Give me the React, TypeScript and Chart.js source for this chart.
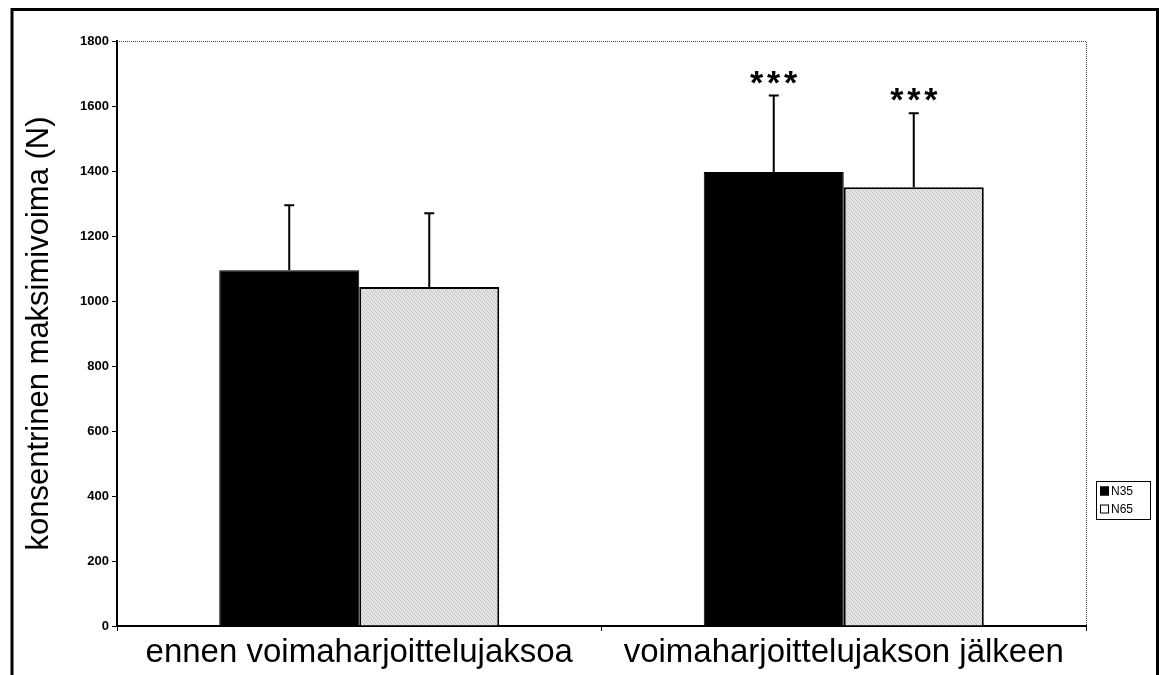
import { useEffect, useRef } from 'react';
import { Chart, registerables } from 'chart.js';

Chart.register(...registerables);

// Group labels along the x axis
const categories = ['ennen voimaharjoittelujaksoa', 'voimaharjoittelujakson jälkeen'];
// Series names
const seriesNames = ['N35', 'N65'];
// Mean concentric maximal force (N)
const n35Means = [1095, 1397];
const n65Means = [1043, 1350];
// Standard deviations (drawn upward only)
const n35Sd = [200, 235];
const n65Sd = [227, 228];
// Significance markers above the error bars
const n35Sig = ['', '***'];
const n65Sig = ['', '***'];
// Y axis range and step
const yMin = 0;
const yMax = 1800;
const yStep = 200;

const FONT = '"Liberation Sans", Arial, Helvetica, sans-serif';

// light stippled grey fill for the second series
function makeStipple(ctx: CanvasRenderingContext2D): CanvasPattern | string {
  const tile = document.createElement('canvas');
  tile.width = 4;
  tile.height = 4;
  const t = tile.getContext('2d');
  if (!t) return '#dcdcdc';
  t.fillStyle = '#e6e6e6';
  t.fillRect(0, 0, 4, 4);
  t.fillStyle = '#bdbdbd';
  t.fillRect(0, 0, 1, 1);
  t.fillRect(2, 1, 1, 1);
  t.fillRect(1, 2, 1, 1);
  t.fillRect(3, 3, 1, 1);
  return ctx.createPattern(tile, 'repeat') || '#dcdcdc';
}

const errorBarPlugin = {
  id: 'errorBars',
  afterDatasetsDraw(chart: any) {
    const { ctx, scales } = chart;
    const y = scales.y;
    chart.data.datasets.forEach((ds: any, i: number) => {
      const meta = chart.getDatasetMeta(i);
      meta.data.forEach((bar: any, j: number) => {
        const mean = ds.data[j];
        const sd = ds.errors[j];
        const top = y.getPixelForValue(mean + sd);
        ctx.save();
        ctx.strokeStyle = '#000';
        ctx.lineWidth = 2;
        ctx.beginPath();
        ctx.moveTo(bar.x, bar.y);
        ctx.lineTo(bar.x, top);
        ctx.moveTo(bar.x - 5, top);
        ctx.lineTo(bar.x + 5, top);
        ctx.stroke();
        const sig: string = ds.sig[j];
        if (sig) {
          ctx.fillStyle = '#000';
          ctx.font = `bold 34px ${FONT}`;
          ctx.textAlign = 'center';
          ctx.textBaseline = 'alphabetic';
          const gap = 17;
          const n = sig.length;
          for (let k = 0; k < n; k++) {
            ctx.fillText(sig[k], bar.x + (k - (n - 1) / 2) * gap, top - 2);
          }
        }
        ctx.restore();
      });
    });
  },
};

const framePlugin = {
  id: 'frame',
  beforeDraw(chart: any) {
    const { ctx, width, height } = chart;
    ctx.save();
    ctx.fillStyle = '#fff';
    ctx.fillRect(0, 0, width, height);
    ctx.restore();
  },
  afterDraw(chart: any) {
    const { ctx, chartArea } = chart;
    ctx.save();
    // dotted top and right edges of the plot area
    ctx.strokeStyle = '#444';
    ctx.lineWidth = 1;
    ctx.setLineDash([1, 1]);
    ctx.beginPath();
    ctx.moveTo(chartArea.left, chartArea.top + 0.5);
    ctx.lineTo(chartArea.right + 0.5, chartArea.top + 0.5);
    ctx.lineTo(chartArea.right + 0.5, chartArea.bottom);
    ctx.stroke();
    ctx.setLineDash([]);

    // outer frame
    ctx.strokeStyle = '#000';
    ctx.lineWidth = 3;
    ctx.strokeRect(12, 9.5, 1145.5, 720);

    // legend box
    const lx = 1096;
    const ly = 481;
    const lw = 54;
    const lh = 38;
    ctx.lineWidth = 1;
    ctx.strokeRect(lx + 0.5, ly + 0.5, lw, lh);
    ctx.font = `12px ${FONT}`;
    ctx.textBaseline = 'middle';
    ctx.textAlign = 'left';
    chart.data.datasets.forEach((ds: any, i: number) => {
      const cy = ly + 10 + i * 18;
      ctx.fillStyle = ds.legendFill;
      ctx.fillRect(lx + 4, cy - 4.5, 9, 9);
      ctx.strokeStyle = '#000';
      ctx.strokeRect(lx + 4.5, cy - 4, 8, 8);
      ctx.fillStyle = '#000';
      ctx.fillText(ds.label, lx + 15, cy + 1);
    });
    ctx.restore();
  },
};

export default function App() {
  const canvasRef = useRef<HTMLCanvasElement | null>(null);

  useEffect(() => {
    const canvas = canvasRef.current;
    if (!canvas) return;
    const c2d = canvas.getContext('2d');
    if (!c2d) return;
    Chart.defaults.font.family = FONT;
    Chart.defaults.color = '#000';
    const stipple = makeStipple(c2d);

    const chart = new Chart(canvas, {
      type: 'bar',
      data: {
        labels: categories,
        datasets: [
          {
            label: seriesNames[0],
            data: n35Means,
            errors: n35Sd,
            sig: n35Sig,
            legendFill: '#000',
            backgroundColor: '#000',
            borderColor: '#000',
            borderWidth: 1,
          } as any,
          {
            label: seriesNames[1],
            data: n65Means,
            errors: n65Sd,
            sig: n65Sig,
            legendFill: '#fff',
            backgroundColor: stipple,
            borderColor: '#000',
            borderWidth: 2,
          } as any,
        ],
      },
      options: {
        responsive: false,
        animation: false,
        events: [],
        layout: { padding: { top: 41, right: 73, left: 0, bottom: 0 } },
        datasets: {
          bar: { barPercentage: 1, categoryPercentage: 0.578 },
        },
        plugins: {
          legend: { display: false },
          tooltip: { enabled: false },
        },
        scales: {
          x: {
            grid: {
              display: true,
              offset: true,
              drawOnChartArea: false,
              drawTicks: true,
              tickLength: 5,
              color: '#000',
            },
            border: { display: true, color: '#000', width: 2 },
            ticks: {
              font: { size: 33 },
              color: '#000',
              padding: 2,
              maxRotation: 0,
              autoSkip: false,
            },
            afterFit: (s: any) => {
              s.height = 49;
            },
          },
          y: {
            min: yMin,
            max: yMax,
            grid: {
              display: true,
              drawOnChartArea: false,
              drawTicks: true,
              tickLength: 5,
              color: '#000',
            },
            border: { display: true, color: '#000', width: 2 },
            ticks: {
              stepSize: yStep,
              font: { size: 13, weight: 'bold' },
              color: '#000',
              padding: 3,
              callback: (v: any) => String(v),
            },
            title: {
              display: true,
              text: 'konsentrinen maksimivoima (N)',
              font: { size: 31 },
              color: '#000',
              padding: { top: 21, bottom: 0 },
            },
            afterFit: (s: any) => {
              s.width = 117;
            },
          },
        },
      },
      plugins: [framePlugin, errorBarPlugin],
    } as any);

    return () => chart.destroy();
  }, []);

  return (
    <div style={{ position: 'absolute', left: 0, top: 0, width: 1159, height: 675 }}>
      <canvas ref={canvasRef} width={1159} height={675} style={{ display: 'block' }} />
    </div>
  );
}
